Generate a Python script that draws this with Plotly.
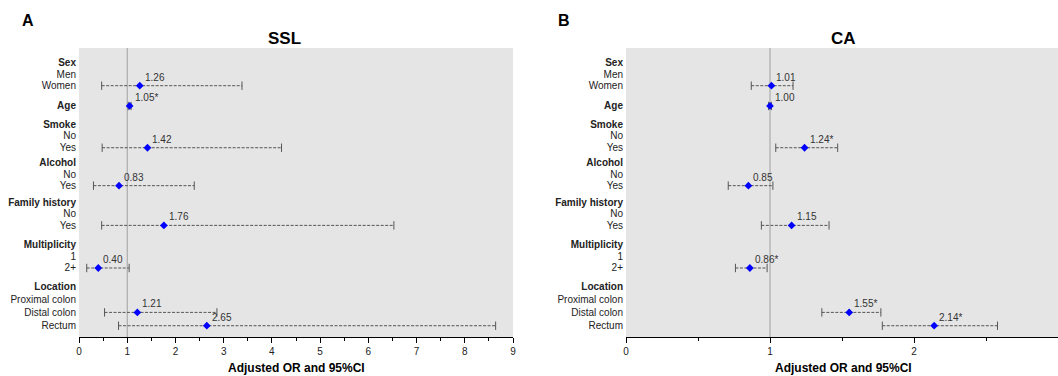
import plotly.graph_objects as go

# ---------------- data ----------------
row_labels = ["Sex", "Men", "Women", "Age", "Smoke", "No", "Yes", "Alcohol", "No", "Yes",
              "Family history", "No", "Yes", "Multiplicity", "1", "2+", "Location",
              "Proximal colon", "Distal colon", "Rectum"]
row_is_header = [1, 0, 0, 1, 1, 0, 0, 1, 0, 0, 1, 0, 0, 1, 0, 0, 1, 0, 0, 0]
row_pos = [1.17, 2.17, 3.14, 4.83, 6.36, 7.33, 8.31, 9.5, 10.5, 11.47,
           12.86, 13.83, 14.78, 16.36, 17.36, 18.33, 19.89, 20.94, 22.03, 23.14]
est_row_idx = [2, 3, 6, 9, 12, 15, 18, 19]

ssl_or = [1.26, 1.05, 1.42, 0.83, 1.76, 0.40, 1.21, 2.65]
ssl_lo = [0.47, 1.02, 0.48, 0.30, 0.47, 0.16, 0.53, 0.82]
ssl_hi = [3.38, 1.08, 4.20, 2.39, 6.53, 1.04, 2.86, 8.64]
ssl_lab = ["1.26", "1.05*", "1.42", "0.83", "1.76", "0.40", "1.21", "2.65"]

ca_or = [1.01, 1.00, 1.24, 0.85, 1.15, 0.86, 1.55, 2.14]
ca_lo = [0.87, 0.99, 1.04, 0.71, 0.94, 0.76, 1.36, 1.78]
ca_hi = [1.16, 1.01, 1.47, 1.02, 1.41, 0.98, 1.77, 2.58]
ca_lab = ["1.01", "1.00", "1.24*", "0.85", "1.15", "0.86*", "1.55*", "2.14*"]

panel_titles = ["SSL", "CA"]
panel_letters = ["A", "B"]
x_title = "Adjusted OR and 95%CI"
x_max = [9, 3]

# ---------------- figure ----------------
W, H = 1058, 376
FONT = "Liberation Sans, Arial, sans-serif"
fig = go.Figure()

ticktext = [f"<b>{t}</b>" if h else t for t, h in zip(row_labels, row_is_header)]
y_bottom = 24.08

panels = [
    dict(xa="x", ya="y", ors=ssl_or, lo=ssl_lo, hi=ssl_hi, lab=ssl_lab,
         dom=[79 / W, 513 / W]),
    dict(xa="x2", ya="y2", ors=ca_or, lo=ca_lo, hi=ca_hi, lab=ca_lab,
         dom=[626 / W, 1.0]),
]

ydom = [(H - 337) / H, (H - 48) / H]

for i, p in enumerate(panels):
    ys = [row_pos[k] for k in est_row_idx]
    lx, ly = [], []
    for a, b, yy in zip(p["lo"], p["hi"], ys):
        lx += [a, b, None]
        ly += [yy, yy, None]
    fig.add_trace(go.Scatter(
        x=lx, y=ly, mode="lines+markers", xaxis=p["xa"], yaxis=p["ya"],
        line=dict(color="#555555", width=1, dash="3px,1.5px"),
        marker=dict(symbol="line-ns", size=6, line=dict(color="#555555", width=1)),
        hoverinfo="skip", showlegend=False))
    fig.add_trace(go.Scatter(
        x=p["ors"], y=ys, mode="markers", xaxis=p["xa"], yaxis=p["ya"],
        marker=dict(symbol="diamond", size=6, color="#0000ff"),
        showlegend=False))
    for v, yy, t in zip(p["ors"], ys, p["lab"]):
        fig.add_annotation(x=v, y=yy, xref=p["xa"], yref=p["ya"], text=t,
                           showarrow=False, xanchor="left", yanchor="bottom",
                           xshift=3, yshift=1,
                           font=dict(family=FONT, size=10, color="#333333"))
    # reference line at OR = 1
    fig.add_shape(type="line", x0=1, x1=1, y0=0, y1=1, xref=p["xa"],
                  yref=p["ya"] + " domain",
                  line=dict(color="#a0a0a0", width=1), layer="below")

    xkey = "xaxis" if i == 0 else "xaxis2"
    ykey = "yaxis" if i == 0 else "yaxis2"
    fig.update_layout(**{
        xkey: dict(domain=p["dom"], range=[0, x_max[i]], anchor=p["ya"],
                   automargin=False,
                   showgrid=False, zeroline=False, showline=True,
                   linecolor="#000000", linewidth=1,
                   ticks="outside", ticklen=5, tickcolor="#000000", dtick=1,
                   minor=dict(ticks="outside", ticklen=3, dtick=0.5,
                              tickcolor="#000000", showgrid=False),
                   tickfont=dict(family=FONT, size=10, color="#222222")),
        ykey: dict(domain=ydom, range=[y_bottom, 0], anchor=p["xa"],
                   automargin=False,
                   showgrid=False, zeroline=False, showline=False, ticks="",
                   tickvals=row_pos, ticktext=ticktext, ticklabelstandoff=2,
                   tickfont=dict(family=FONT, size=10, color="#222222")),
    })

# titles and letters
title_x = [284, 843]
letter_x = [28, 564]
for i in range(2):
    fig.add_annotation(x=title_x[i] / W, y=1 - 38 / H, xref="paper", yref="paper",
                       text=f"<b>{panel_titles[i]}</b>", showarrow=False,
                       xanchor="center", yanchor="middle",
                       font=dict(family=FONT, size=17, color="#000000"))
    fig.add_annotation(x=letter_x[i] / W, y=1 - 20 / H, xref="paper", yref="paper",
                       text=f"<b>{panel_letters[i]}</b>", showarrow=False,
                       xanchor="center", yanchor="middle",
                       font=dict(family=FONT, size=16, color="#000000"))
    cx = [296, 843][i]
    fig.add_annotation(x=cx / W, y=1 - 368 / H, xref="paper", yref="paper",
                       text=f"<b>{x_title}</b>", showarrow=False,
                       xanchor="center", yanchor="middle",
                       font=dict(family=FONT, size=12, color="#000000"))

fig.update_layout(
    width=W, height=H, margin=dict(l=0, r=0, t=0, b=0),
    paper_bgcolor="#ffffff", plot_bgcolor="#e5e5e5",
    font=dict(family=FONT),
)

fig.write_html("out.html", config={"displayModeBar": False},
               post_script="document.body.style.margin='0';document.body.style.overflow='hidden';")
